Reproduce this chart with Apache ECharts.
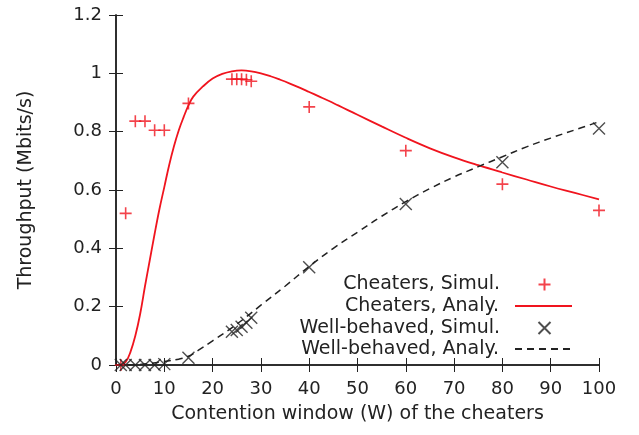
<!DOCTYPE html>
<html>
<head>
<meta charset="utf-8">
<script src="https://cdn.jsdelivr.net/npm/echarts@6/dist/echarts.min.js"></script>
<style>html,body{margin:0;padding:0;background:#fff;}#c{width:639px;height:435px;}</style>
</head>
<body>
<div id="c"></div>
<script>
const xTicks = [0, 10, 20, 30, 40, 50, 60, 70, 80, 90, 100];
const yTicks = [0, 0.2, 0.4, 0.6, 0.8, 1, 1.2];

const wSim = [1, 2, 4, 6, 8, 10, 15, 24, 25, 26, 27, 28, 40, 60, 80, 100];
const cheatSim = [0, 0.52, 0.836, 0.836, 0.805, 0.805, 0.897, 0.98, 0.98, 0.98, 0.978, 0.973, 0.885, 0.735, 0.62, 0.53];
const wellSim = [0, 0, 0, 0, 0, 0.003, 0.025, 0.114, 0.12, 0.131, 0.145, 0.162, 0.335, 0.552, 0.695, 0.811];

const wCheatAna = [1, 2, 3, 4, 5, 6, 7, 8, 9, 10, 11, 12, 13, 14, 15, 16, 18, 20, 22, 24, 26, 28, 30, 32, 34, 36, 38, 40, 42, 44, 46, 48, 50, 55, 60, 65, 70, 75, 80, 85, 90, 95, 100];
const cheatAna = [0, 0.01, 0.045, 0.1, 0.175, 0.27, 0.36, 0.45, 0.535, 0.61, 0.685, 0.75, 0.805, 0.85, 0.89, 0.92, 0.955, 0.982, 0.998, 1.007, 1.01, 1.007, 1.0, 0.99, 0.978, 0.965, 0.951, 0.936, 0.921, 0.906, 0.89, 0.874, 0.858, 0.818, 0.779, 0.743, 0.712, 0.685, 0.66, 0.636, 0.612, 0.59, 0.568];

const wWellAna = [0, 5, 10, 13, 15, 17, 20, 25, 30, 35, 40, 45, 50, 55, 60, 65, 70, 75, 80, 85, 90, 95, 100];
const wellAna = [0, 0.002, 0.012, 0.02, 0.03, 0.05, 0.083, 0.14, 0.205, 0.27, 0.338, 0.4, 0.455, 0.51, 0.56, 0.605, 0.645, 0.68, 0.714, 0.748, 0.778, 0.806, 0.834];

const names = ['Cheaters, Simul.', 'Cheaters, Analy.', 'Well-behaved, Simul.', 'Well-behaved, Analy.'];

const zip = (xs, ys) => xs.map((x, i) => [x, ys[i]]);
const RED = '#f0141e';
const INK = '#222';
const FONT = 'DejaVu Sans, Verdana, sans-serif';
const PLUS = 'path://M-1,0L1,0M0,-1L0,1';
const CROSS = 'path://M-1,-1L1,1M-1,1L1,-1';

const axisLine = { show: true, lineStyle: { color: INK, width: 1.5 } };
const tick = { show: true, inside: true, length: 7, lineStyle: { color: INK, width: 1 } };

const legendCenters = [284, 305.5, 327.5, 348.5];
const legends = names.map((n, i) => ({
  data: [n],
  orient: 'horizontal',
  align: 'right',
  right: (i % 2 === 0) ? 86 : 66,
  top: legendCenters[i] - 9,
  padding: 0,
  itemWidth: 57,
  itemHeight: 12,
  selectedMode: false,
  itemStyle: (i % 2 === 1) ? { opacity: 0 } : {},
  textStyle: { fontSize: 19, color: INK, fontFamily: FONT, padding: [0, 11, 0, 0] }
}));

const chart = echarts.init(document.getElementById('c'), null, { renderer: 'canvas' });
chart.setOption({
  animation: false,
  backgroundColor: '#fff',
  textStyle: { fontFamily: FONT },
  grid: { left: 116, right: 40, top: 15, bottom: 70, containLabel: false },
  legend: legends,
  xAxis: [{
    type: 'value', min: xTicks[0], max: xTicks[xTicks.length - 1], interval: 10,
    name: 'Contention window (W) of the cheaters', nameLocation: 'middle', nameGap: 40,
    nameTextStyle: { fontSize: 19, color: INK, fontFamily: FONT },
    axisLine: axisLine, axisTick: tick, splitLine: { show: false },
    axisLabel: { fontSize: 18, color: INK, margin: 15, fontFamily: FONT }
  }, {
    type: 'value', position: 'top', min: xTicks[0], max: xTicks[xTicks.length - 1], interval: 10,
    axisLine: axisLine, axisTick: tick, splitLine: { show: false }, axisLabel: { show: false }
  }],
  yAxis: [{
    type: 'value', min: yTicks[0], max: yTicks[yTicks.length - 1], interval: 0.2,
    name: 'Throughput (Mbits/s)', nameLocation: 'middle', nameGap: 80,
    nameTextStyle: { fontSize: 19, color: INK, fontFamily: FONT },
    axisLine: axisLine, axisTick: tick, splitLine: { show: false },
    axisLabel: { fontSize: 18, color: INK, margin: 14, fontFamily: FONT }
  }, {
    type: 'value', position: 'right', min: yTicks[0], max: yTicks[yTicks.length - 1], interval: 0.2,
    axisLine: axisLine, axisTick: tick, splitLine: { show: false }, axisLabel: { show: false }
  }],
  series: [{
    name: names[0], type: 'scatter', data: zip(wSim, cheatSim),
    symbol: PLUS, symbolSize: 12, symbolKeepAspect: true,
    itemStyle: { color: 'none', borderColor: RED, borderWidth: 1.6 }, z: 5
  }, {
    name: names[1], type: 'line', data: zip(wCheatAna, cheatAna),
    smooth: 0.4, showSymbol: false, symbol: 'none',
    lineStyle: { color: RED, width: 1.8 }, itemStyle: { color: RED }, z: 3
  }, {
    name: names[2], type: 'scatter', data: zip(wSim, wellSim),
    symbol: CROSS, symbolSize: 12, symbolKeepAspect: true,
    itemStyle: { color: 'none', borderColor: INK, borderWidth: 1.4 }, z: 5
  }, {
    name: names[3], type: 'line', data: zip(wWellAna, wellAna),
    smooth: 0.4, showSymbol: false, symbol: 'none',
    lineStyle: { color: INK, width: 1.5, type: [7, 5] }, itemStyle: { color: INK }, z: 3
  }]
});
</script>
</body>
</html>
